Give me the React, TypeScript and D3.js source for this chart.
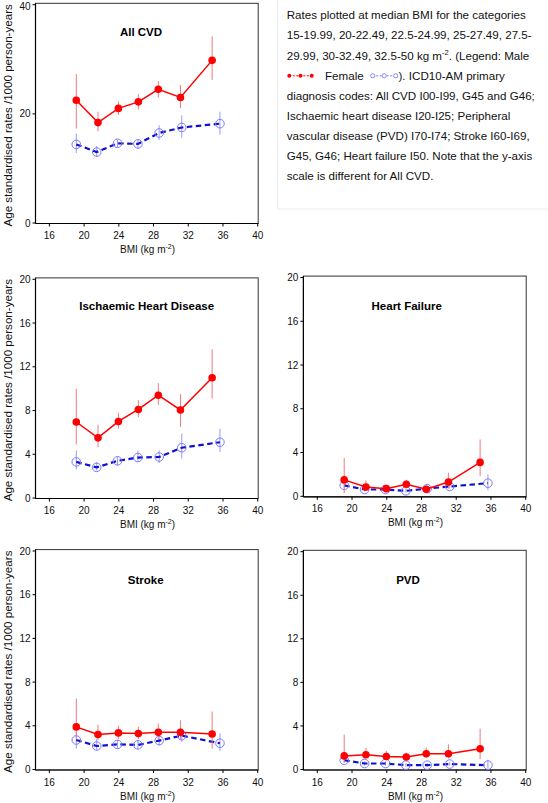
import React from "react";
import * as d3 from "d3";

const maleBMI = [19.1, 21.6, 23.95, 26.25, 28.55, 31.1, 34.75];
const femaleBMI = [19.1, 21.45, 23.85, 26.2, 28.65, 31.25, 35.65];
const xTicks = [16, 20, 24, 28, 32, 36, 40];
const yTicksCVD = [0, 20, 40];
const yTicksOther = [0, 4, 8, 12, 16, 20];

const cvdMale = [22.5, 18.4, 21.0, 22.2, 24.5, 23.0, 29.8];
const cvdMaleLo = [17.3, 16.8, 19.8, 20.8, 23.0, 21.0, 26.2];
const cvdMaleHi = [27.3, 20.4, 22.3, 23.6, 26.0, 25.3, 34.2];
const cvdFemale = [14.4, 13.0, 14.6, 14.5, 16.5, 17.5, 18.2];
const cvdFemaleLo = [12.8, 12.1, 13.9, 13.6, 15.2, 15.6, 16.2];
const cvdFemaleHi = [16.4, 14.1, 15.3, 15.3, 17.9, 19.7, 20.4];

const ihdMale = [6.95, 5.5, 7.0, 8.1, 9.4, 8.05, 11.0];
const ihdMaleLo = [4.9, 4.65, 6.35, 7.4, 8.5, 6.5, 9.1];
const ihdMaleHi = [10.0, 6.7, 7.8, 8.95, 10.5, 9.5, 13.6];
const ihdFemale = [3.3, 2.8, 3.4, 3.7, 3.75, 4.6, 5.1];
const ihdFemaleLo = [2.6, 2.5, 3.0, 3.3, 3.2, 3.6, 4.2];
const ihdFemaleHi = [4.35, 3.3, 3.75, 4.35, 4.35, 5.9, 6.35];

const hfMale = [1.5, 0.85, 0.7, 1.1, 0.65, 1.3, 3.1];
const hfMaleLo = [0.3, 0.55, 0.5, 0.7, 0.4, 0.7, 1.85];
const hfMaleHi = [3.5, 1.45, 1.0, 1.5, 1.0, 2.15, 5.2];
const hfFemale = [1.0, 0.62, 0.62, 0.5, 0.7, 0.9, 1.2];
const hfFemaleLo = [0.7, 0.45, 0.45, 0.35, 0.5, 0.7, 0.55];
const hfFemaleHi = [1.3, 0.8, 0.8, 0.7, 0.9, 1.2, 2.0];

const strokeMale = [3.9, 3.2, 3.35, 3.3, 3.4, 3.4, 3.25];
const strokeMaleLo = [2.85, 2.7, 2.8, 2.8, 2.8, 2.7, 1.9];
const strokeMaleHi = [6.5, 4.1, 4.0, 3.9, 4.2, 4.5, 5.3];
const strokeFemale = [2.7, 2.15, 2.3, 2.25, 2.65, 3.1, 2.4];
const strokeFemaleLo = [1.9, 1.8, 1.9, 1.85, 2.2, 2.5, 1.7];
const strokeFemaleHi = [3.45, 2.8, 2.7, 2.7, 3.2, 3.75, 3.3];

const pvdMale = [1.25, 1.35, 1.2, 1.15, 1.45, 1.45, 1.9];
const pvdMaleLo = [0.7, 1.05, 0.85, 0.85, 1.05, 1.0, 0.95];
const pvdMaleHi = [3.2, 2.0, 1.7, 1.55, 2.0, 2.3, 3.75];
const pvdFemale = [0.85, 0.55, 0.55, 0.4, 0.4, 0.5, 0.4];
const pvdFemaleLo = [0.6, 0.35, 0.35, 0.25, 0.25, 0.35, 0.1];
const pvdFemaleHi = [1.1, 0.75, 0.75, 0.6, 0.6, 0.7, 0.9];

const legendLines = [
  "Rates plotted at median BMI for the categories",
  "15-19.99, 20-22.49, 22.5-24.99, 25-27.49, 27.5-",
  "29.99, 30-32.49, 32.5-50 kg m",
  "",
  "diagnosis codes: All CVD I00-I99, G45 and G46;",
  "Ischaemic heart disease I20-I25; Peripheral",
  "vascular disease (PVD) I70-I74; Stroke I60-I69,",
  "G45, G46; Heart failure I50. Note that the y-axis",
  "scale is different for All CVD.",
];

const FONT = "'Liberation Sans', Arial, sans-serif";
const RED = "#ff0000";
const RED_ERR = "#f07a7a";
const BLUE = "#1010d0";
const BLUE_PT = "#7a7aff";
const BLUE_ERR = "#9a9aff";

type PanelCfg = {
  title: string;
  x0: number; x1: number;
  yZero: number; yTop: number; yMax: number;
  yTicks: number[];
  titleX: number; titleY: number;
  showYLabel: boolean;
  m: number[]; mLo: number[]; mHi: number[];
  f: number[]; fLo: number[]; fHi: number[];
};

const panels: PanelCfg[] = [
  { title: "All CVD", x0: 35.5, x1: 257.7, yZero: 223, yTop: 4.7, yMax: 40, yTicks: yTicksCVD, titleX: 141, titleY: 36, showYLabel: true,
    m: cvdMale, mLo: cvdMaleLo, mHi: cvdMaleHi, f: cvdFemale, fLo: cvdFemaleLo, fHi: cvdFemaleHi },
  { title: "Ischaemic Heart Disease", x0: 35.5, x1: 257.7, yZero: 498, yTop: 279.3, yMax: 20, yTicks: yTicksOther, titleX: 146.7, titleY: 310, showYLabel: true,
    m: ihdMale, mLo: ihdMaleLo, mHi: ihdMaleHi, f: ihdFemale, fLo: ihdFemaleLo, fHi: ihdFemaleHi },
  { title: "Heart Failure", x0: 303.4, x1: 525.7, yZero: 496.3, yTop: 277.5, yMax: 20, yTicks: yTicksOther, titleX: 406.7, titleY: 309.5, showYLabel: false,
    m: hfMale, mLo: hfMaleLo, mHi: hfMaleHi, f: hfFemale, fLo: hfFemaleLo, fHi: hfFemaleHi },
  { title: "Stroke", x0: 35.5, x1: 257.7, yZero: 769.5, yTop: 551, yMax: 20, yTicks: yTicksOther, titleX: 145.7, titleY: 584, showYLabel: true,
    m: strokeMale, mLo: strokeMaleLo, mHi: strokeMaleHi, f: strokeFemale, fLo: strokeFemaleLo, fHi: strokeFemaleHi },
  { title: "PVD", x0: 303.4, x1: 525.7, yZero: 769.5, yTop: 551.7, yMax: 20, yTicks: yTicksOther, titleX: 408, titleY: 584, showYLabel: false,
    m: pvdMale, mLo: pvdMaleLo, mHi: pvdMaleHi, f: pvdFemale, fLo: pvdFemaleLo, fHi: pvdFemaleHi },
];

function Panel({ p }: { p: PanelCfg }) {
  const x = d3.scaleLinear().domain([14.4, 40]).range([p.x0, p.x1]);
  const y = d3.scaleLinear().domain([0, p.yMax]).range([p.yZero, p.yTop]);
  const top = p.yTop - 1.4;
  const bottom = p.yZero + 0.5;
  const line = d3.line<[number, number]>().x((d) => x(d[0])).y((d) => y(d[1]));
  const mPts = maleBMI.map((b, i) => [b, p.m[i]] as [number, number]);
  const fPts = femaleBMI.map((b, i) => [b, p.f[i]] as [number, number]);
  return (
    <g>
      <rect x={p.x0} y={top} width={p.x1 - p.x0 + 0.5} height={bottom - top} fill="none" stroke="#333" strokeWidth={1} />
      <line x1={p.x0} x2={p.x0} y1={top} y2={bottom} stroke="#000" strokeWidth={1.2} />
      <line x1={p.x0} x2={p.x1 + 0.5} y1={bottom} y2={bottom} stroke="#000" strokeWidth={1.2} />
      {xTicks.map((t) => (
        <g key={"x" + t}>
          <line x1={x(t)} x2={x(t)} y1={bottom} y2={bottom + 3} stroke="#000" />
          <text x={x(t)} y={bottom + 15.5} textAnchor="middle" fontSize={10} fontFamily={FONT} fill="#111">{t}</text>
        </g>
      ))}
      {p.yTicks.map((t) => (
        <g key={"y" + t}>
          <line x1={p.x0 - 3} x2={p.x0} y1={y(t)} y2={y(t)} stroke="#000" />
          <text x={p.x0 - 5} y={Math.max(y(t) + 3.6, 9.6)} textAnchor="end" fontSize={10} fontFamily={FONT} fill="#111">{t}</text>
        </g>
      ))}
      <text x={(x(16) + x(40)) / 2 - 6} y={bottom + 29.5} textAnchor="middle" fontSize={10} fontFamily={FONT} fill="#111">
        BMI (kg m<tspan dy={-4} fontSize={7}>-2</tspan><tspan dy={4}>)</tspan>
      </text>
      {p.showYLabel && (
        <text transform={`translate(11.5,${(p.yZero + p.yTop) / 2 + 1.5}) rotate(-90)`} textAnchor="middle" fontSize={11.6} fontFamily={FONT} fill="#111">
          Age standardised rates /1000 person-years
        </text>
      )}
      <text x={p.titleX} y={p.titleY} textAnchor="middle" fontSize={11.5} fontWeight="bold" fontFamily={FONT} fill="#000">{p.title}</text>

      {/* female (blue) */}
      {femaleBMI.map((b, i) => (
        <line key={"fe" + i} x1={x(b)} x2={x(b)} y1={y(p.fLo[i])} y2={y(p.fHi[i])} stroke={BLUE_ERR} strokeWidth={1} />
      ))}
      <path d={line(fPts) || ""} fill="none" stroke={BLUE} strokeWidth={2.2} strokeDasharray="5.5,3.5" />
      {femaleBMI.map((b, i) => (
        <circle key={"fc" + i} cx={x(b)} cy={y(p.f[i])} r={4.3} fill="none" stroke={BLUE_PT} strokeWidth={1} />
      ))}

      {/* male (red) */}
      {maleBMI.map((b, i) => (
        <line key={"me" + i} x1={x(b)} x2={x(b)} y1={y(p.mLo[i])} y2={y(p.mHi[i])} stroke={RED_ERR} strokeWidth={1} />
      ))}
      <path d={line(mPts) || ""} fill="none" stroke={RED} strokeWidth={1.5} />
      {maleBMI.map((b, i) => (
        <circle key={"mc" + i} cx={x(b)} cy={y(p.m[i])} r={3.8} fill={RED} />
      ))}
    </g>
  );
}

function Legend() {
  const left = 286.7;
  const base = 19.3;
  const step = 20.1;
  const fs = 11.6;
  const ly = base + 3 * step - 3.8;
  return (
    <g fontFamily={FONT} fontSize={fs} fill="#111">
      <rect x={277.5} y={-1} width={280} height={210} fill="#fff" stroke="#ececec" strokeWidth={1} />
      {legendLines.map((s, i) =>
        i === 2 ? (
          <text key={i} x={left} y={base + i * step}>
            {s}<tspan dy={-4.5} fontSize={7.5}>-2</tspan><tspan dy={4.5}>. (Legend: Male</tspan>
          </text>
        ) : i === 3 ? null : (
          <text key={i} x={left} y={base + i * step}>{s}</text>
        )
      )}
      <line x1={289.3} x2={311.7} y1={ly} y2={ly} stroke={RED} strokeWidth={1} strokeDasharray="2,1.5" />
      {[289.3, 300.5, 311.7].map((cx) => (
        <circle key={"lr" + cx} cx={cx} cy={ly} r={2} fill={RED} />
      ))}
      <text x={325} y={base + 3 * step}>Female</text>
      <line x1={372.7} x2={395.7} y1={ly} y2={ly} stroke={BLUE_PT} strokeWidth={1} strokeDasharray="2,1.5" />
      {[372.7, 384.2, 395.7].map((cx) => (
        <circle key={"lb" + cx} cx={cx} cy={ly} r={2.1} fill="#fff" stroke={BLUE_PT} strokeWidth={0.9} />
      ))}
      <text x={398.5} y={base + 3 * step}>). ICD10-AM primary</text>
    </g>
  );
}

export default function App() {
  return (
    <svg width={548} height={803} style={{ position: "absolute", left: 0, top: 0, background: "#fff" }}>
      <rect x={0} y={0} width={548} height={803} fill="#fff" />
      <Legend />
      {panels.map((p) => (
        <Panel key={p.title} p={p} />
      ))}
    </svg>
  );
}
